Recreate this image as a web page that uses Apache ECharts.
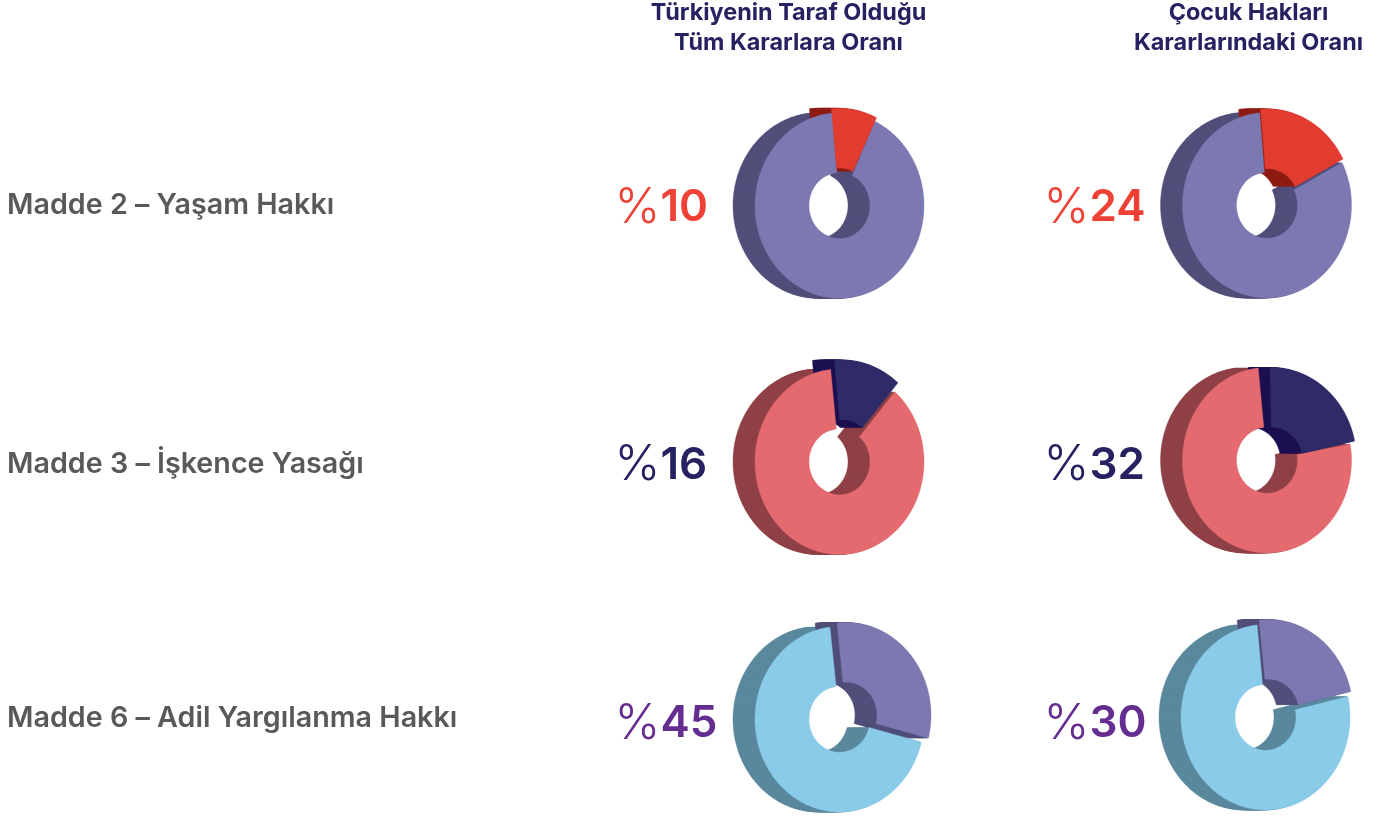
<!DOCTYPE html>
<html><head><meta charset="utf-8">
<style>html,body{margin:0;padding:0;background:#fff}#c{width:1381px;height:816px}</style>
<script src="https://cdn.jsdelivr.net/npm/echarts@6/dist/echarts.min.js"></script>
</head><body><div id="c"></div>
<script>
// ---- data ----
const rowNames = ['Madde 2 – Yaşam Hakkı', 'Madde 3 – İşkence Yasağı', 'Madde 6 – Adil Yargılanma Hakkı'];
const columnTitles = ['Türkiyenin Taraf Olduğu\nTüm Kararlara Oranı', 'Çocuk Hakları\nKararlarındaki Oranı'];
// stated percentages, [row, column]
const statedPercent = [[10, 24], [16, 32], [45, 30]];
// drawn slice limits, degrees clockwise from 12 o'clock
const majorCutStart = [[-5, -5], [-6, -6], [-6.5, -5.7]];
const majorCutEnd = [[24.8, 62.6], [41, 80], [104.3, 77]];
const minorStart = [[-5.5, -5], [-5.5, -1.4], [-6.4, -6.4]];
const minorEnd = [[26, 62.6], [41, 78], [104.3, 77]];

// ---- styling and layout ----
const explode = [[[0, -4.5], [1, -3.5]], [[3, -9], [5, 0]], [[7, -4], [3, -5]]];
const nudge = [[[0, 0.3], [0, 0]], [[0, 0], [0, -1.5]], [[0, 1], [-1.5, -1]]];
const percentDy = [3, 4, 6];
const RX = 84.5, RY = 92.7, HX = 30.5, HY = 33, DEPTH = 22;
const palette = [
  { major: '#7B78B2', majorDark: '#514F7A', minor: '#E23C30', minorDark: '#8E1C13', text: '#EF4136' },
  { major: '#E46A70', majorDark: '#8F4147', minor: '#2F2A68', minorDark: '#1C1050', text: '#262262' },
  { major: '#8BCBEA', majorDark: '#5A889D', minor: '#7B78B2', minorDark: '#514F7A', text: '#662D91' }
];
const FONT = 'Inter';

const items = [];
rowNames.forEach((_, r) => columnTitles.forEach((_, c) => items.push([c, r])));

function sector(cx, cy, fromDeg, toDeg) {
  const pts = [], n = Math.max(8, Math.ceil(Math.abs(toDeg - fromDeg) / 1.5));
  for (let i = 0; i <= n; i++) {
    const a = (fromDeg + (toDeg - fromDeg) * i / n) * Math.PI / 180;
    pts.push([cx + RX * Math.sin(a), cy - RY * Math.cos(a)]);
  }
  for (let i = n; i >= 0; i--) {
    const a = (fromDeg + (toDeg - fromDeg) * i / n) * Math.PI / 180;
    pts.push([cx + HX * Math.sin(a), cy - HY * Math.cos(a)]);
  }
  return pts;
}
const poly = (pts, fill) => ({ type: 'polygon', shape: { points: pts }, style: { fill: fill, stroke: fill, lineWidth: 0.4 }, silent: true });

function renderDonut(params, api) {
  const c = api.value(0), r = api.value(1);
  const p = api.coord([c, r]);
  const cx = p[0] + nudge[r][c][0], cy = p[1] + nudge[r][c][1];
  const col = palette[r], ex = explode[r][c];
  const mF = majorCutEnd[r][c], mT = majorCutStart[r][c] + 360;
  const sF = minorStart[r][c], sT = minorEnd[r][c];
  const ch = [];
  for (let k = DEPTH; k >= 1; k--) ch.push(poly(sector(cx - k, cy, mF, mT), col.majorDark));
  for (let k = DEPTH; k >= 1; k--) ch.push(poly(sector(cx + ex[0] - k, cy + ex[1], sF, sT), col.minorDark));
  ch.push(poly(sector(cx, cy, mF, mT), col.major));
  ch.push(poly(sector(cx + ex[0], cy + ex[1], sF, sT), col.minor));
  ch.push({
    type: 'text', silent: true,
    style: {
      x: p[0] - 225 + c * 1.5, y: p[1] + percentDy[r], align: 'left', verticalAlign: 'middle',
      text: '{p|%}{d|' + statedPercent[r][c] + '}',
      rich: {
        p: { fontFamily: FONT, fontSize: 49, fontWeight: 300, fill: col.text },
        d: { fontFamily: FONT, fontSize: 44, fontWeight: 600, fill: col.text }
      }
    }
  });
  return { type: 'group', children: ch };
}

const rowLabelStyle = { align: 'left', fontFamily: FONT, fontSize: 28.7, fontWeight: 600, color: '#58595B' };
const titleStyle = { fontFamily: FONT, fontSize: 23.4, fontWeight: 700, color: '#262262', lineHeight: 30 };

const chart = echarts.init(document.getElementById('c'), null, { renderer: 'canvas' });
chart.setOption({
  animation: false,
  backgroundColor: '#fff',
  grid: { left: 625.75, width: 855, top: 77, height: 769.5, containLabel: false, outerBoundsMode: 'none' },
  xAxis: {
    type: 'category', position: 'top', data: [
      { value: columnTitles[0], textStyle: Object.assign({}, titleStyle, { padding: [0, 102, 0, 0] }) },
      { value: columnTitles[1], textStyle: Object.assign({}, titleStyle, { padding: [0, 37, 0, 0] }) }
    ],
    axisLine: { show: false }, axisTick: { show: false }, splitLine: { show: false },
    axisLabel: Object.assign({ interval: 0, margin: 19, hideOverlap: false }, titleStyle)
  },
  yAxis: {
    type: 'category', inverse: true, data: rowNames,
    axisLine: { show: false }, axisTick: { show: false }, splitLine: { show: false },
    axisLabel: Object.assign({
      interval: 0, margin: 618.75,
      formatter: (v, i) => '{r' + i + '|' + v + '}',
      rich: {
        r0: Object.assign({}, rowLabelStyle, { padding: [0, 0, 0, 0] }),
        r1: Object.assign({}, rowLabelStyle, { padding: [6, 0, 0, 0] }),
        r2: Object.assign({}, rowLabelStyle, { padding: [0, 0, 0, 0] })
      }
    }, rowLabelStyle)
  },
  series: [{ type: 'custom', coordinateSystem: 'cartesian2d', clip: false, silent: true, data: items, renderItem: renderDonut }]
});
</script></body></html>
